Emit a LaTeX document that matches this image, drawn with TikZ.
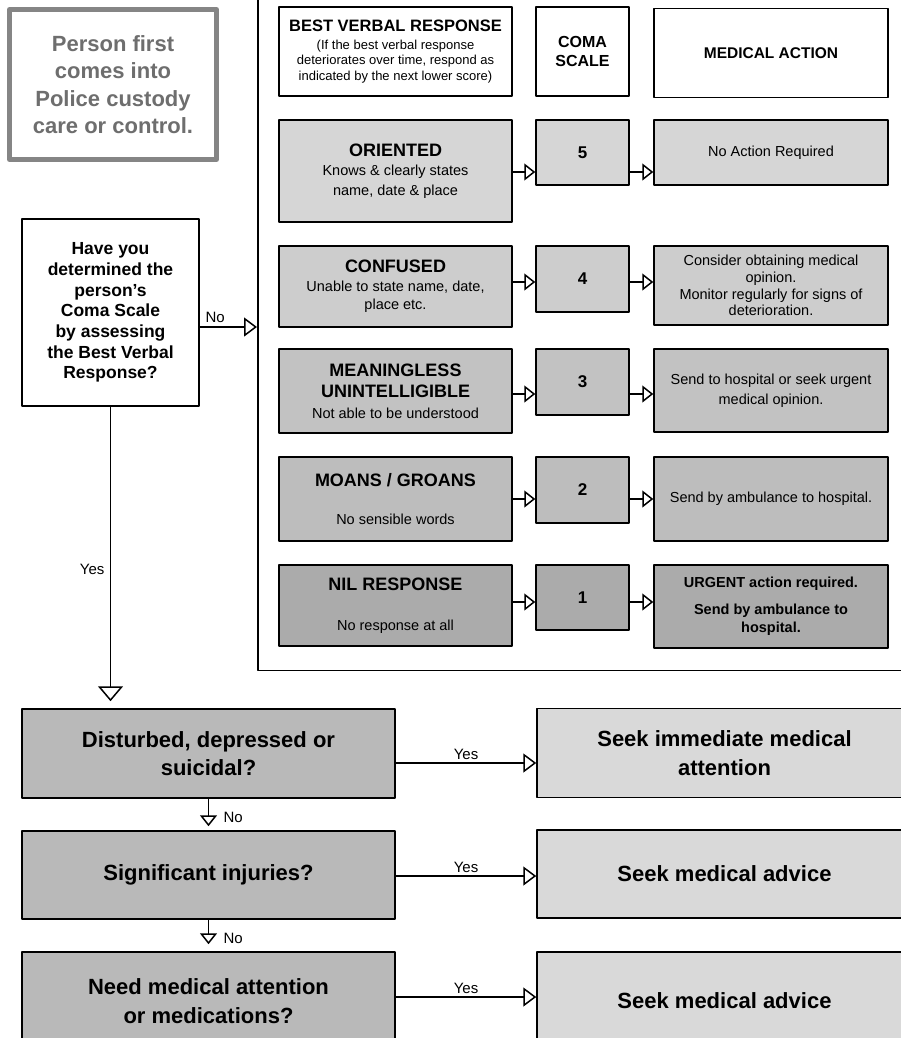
\documentclass[tikz,border=0pt]{standalone}
\usepackage{fontspec}
\setmainfont{Liberation Sans}
\usetikzlibrary{arrows.meta}
\definecolor{rowa}{HTML}{D6D6D6}
\definecolor{rowb}{HTML}{CDCDCD}
\definecolor{rowc}{HTML}{C2C2C2}
\definecolor{rowd}{HTML}{BDBDBD}
\definecolor{rowe}{HTML}{ABABAB}
\definecolor{qgray}{HTML}{B9B9B9}
\definecolor{seekgray}{HTML}{D9D9D9}
\definecolor{boxgray}{HTML}{858585}
\definecolor{textgray}{HTML}{6E6E6E}
\newcommand{\rowtitle}[1]{{\bfseries\fontsize{18}{19.5}\selectfont #1}}
\begin{document}
\begin{tikzpicture}[x=1pt,y=-1pt,line join=round]
\tikzset{box/.style={draw,line width=1.5pt,inner sep=0pt,align=center},
  sub/.style={font=\fontsize{14.5}{19.5}\selectfont},
  num/.style={font=\bfseries\fontsize{17}{19}\selectfont},
  big/.style={font=\bfseries\fontsize{22}{28.5}\selectfont},
  lbl/.style={font=\fontsize{15}{17}\selectfont},
  tipsmall/.style={line width=1.5pt,-{Triangle[fill=white,length=11pt,width=17pt]}},
  tipmid/.style={line width=1.5pt,-{Triangle[fill=white,length=13pt,width=19pt]}},
  tipbig/.style={line width=1.5pt,-{Triangle[fill=white,length=15pt,width=25pt]}}}
\useasboundingbox (0,0) rectangle (901,1038);
\clip (0,0) rectangle (901,1038);
% frame round the coma scale
\node[draw,line width=1.5pt,fill=white,inner sep=0pt,minimum width=700,minimum height=720,anchor=south west] (frame) at (257,671) {};
% start and question
\node[box,draw=boxgray,line width=5pt,fill=white,text=textgray,font=\bfseries\fontsize{22}{27.3}\selectfont,minimum width=207,minimum height=150] (start) at (113,84.5) {Person first\\comes into\\Police custody\\care or control.};
\node[box,fill=white,font=\bfseries\fontsize{17.5}{20.7}\selectfont,minimum width=177,minimum height=187] (ask) at (110.5,312.5) {Have you\\determined the\\person’s\\Coma Scale\\by assessing\\the Best Verbal\\Response?};
% header
\node[box,fill=white,font=\fontsize{13}{15.5}\selectfont,minimum width=233,minimum height=89] (hverb) at (395.5,51.5) {{\bfseries\fontsize{16.5}{15.5}\selectfont BEST VERBAL RESPONSE}\\[2.5pt](If the best verbal response\\deteriorates over time, respond as\\indicated by the next lower score)};
\node[box,fill=white,font=\bfseries\fontsize{16}{19}\selectfont,minimum width=93,minimum height=89] (hcoma) at (582.5,51.5) {COMA\\SCALE};
\node[box,fill=white,font=\bfseries\fontsize{15.5}{19}\selectfont,minimum width=234,minimum height=89] (hact) at (771,53) {MEDICAL ACTION};
% scale rows
\node[box,sub,fill=rowa,minimum width=233,minimum height=102] (l5) at (395.5,171) {\rowtitle{ORIENTED}\\Knows \& clearly states\\name, date \& place};
\node[box,num,fill=rowa,minimum width=93,minimum height=65] (c5) at (582.5,152.5) {5};
\node[box,sub,fill=rowa,minimum width=234,minimum height=65] (a5) at (771,152.5) {No Action Required};
\node[box,sub,fill=rowb,font=\fontsize{14.5}{18.5}\selectfont,minimum width=233,minimum height=81] (l4) at (395.5,286.5) {\rowtitle{CONFUSED}\\Unable to state name, date,\\place etc.};
\node[box,num,fill=rowb,minimum width=93,minimum height=66] (c4) at (582.5,279) {4};
\node[box,fill=rowb,font=\fontsize{14.5}{16.7}\selectfont,minimum width=234,minimum height=79] (a4) at (771,285.5) {Consider obtaining medical\\opinion.\\Monitor regularly for signs of\\deterioration.};
\node[box,fill=rowc,font=\fontsize{14.5}{21}\selectfont,minimum width=233,minimum height=84] (l3) at (395.5,391) {\rowtitle{MEANINGLESS}\\\rowtitle{UNINTELLIGIBLE}\\Not able to be understood};
\node[box,num,fill=rowc,minimum width=93,minimum height=66] (c3) at (582.5,382) {3};
\node[box,fill=rowc,font=\fontsize{14.5}{20}\selectfont,minimum width=234,minimum height=83] (a3) at (771,390.5) {Send to hospital or seek urgent\\medical opinion.};
\node[box,sub,fill=rowd,minimum width=233,minimum height=84] (l2) at (395.5,499) {\rowtitle{MOANS / GROANS}\\[19pt]No sensible words};
\node[box,num,fill=rowd,minimum width=93,minimum height=66] (c2) at (582.5,490) {2};
\node[box,sub,fill=rowd,minimum width=234,minimum height=84] (a2) at (771,499) {Send by ambulance to hospital.};
\node[box,sub,fill=rowe,minimum width=233,minimum height=81] (l1) at (395.5,605.5) {\rowtitle{NIL RESPONSE}\\[20pt]No response at all};
\node[box,num,fill=rowe,minimum width=93,minimum height=65] (c1) at (582.5,597.5) {1};
\node[box,fill=rowe,font=\bfseries\fontsize{14.5}{18}\selectfont,minimum width=234,minimum height=83] (a1) at (771,606.5) {URGENT action required.\\[9pt]Send by ambulance to\\hospital.};
\foreach \r/\y in {5/172,4/282,3/394,2/499,1/602}
{\draw[tipsmall] (l\r.east |- 0,\y) -- (c\r.west |- 0,\y);
 \draw[tipsmall] (c\r.east |- 0,\y) -- (a\r.west |- 0,\y);}
% bottom questions
\node[box,big,fill=qgray,minimum width=373,minimum height=89] (dis) at (208.5,753.5) {Disturbed, depressed or\\suicidal?};
\node[box,big,fill=qgray,minimum width=373,minimum height=88] (inj) at (208.5,875) {Significant injuries?};
\node[box,big,fill=qgray,minimum width=373,minimum height=98] (med) at (208.5,1001) {Need medical attention\\or medications?};
\node[box,big,fill=seekgray,minimum width=375,minimum height=89] (seek1) at (724.5,753) {Seek immediate medical\\attention};
\node[box,big,fill=seekgray,minimum width=375,minimum height=88] (seek2) at (724.5,874) {Seek medical advice};
\node[box,big,fill=seekgray,minimum width=375,minimum height=98] (seek3) at (724.5,1001) {Seek medical advice};
% connectors
\draw[tipmid] (ask.east |- 0,327) -- (frame.west |- 0,327) node[lbl,pos=.27,above] {No};
\draw[tipbig,shorten >=7pt] (ask.south) -- (ask.south |- dis.north) node[lbl,pos=.54,left=2pt] {Yes};
\draw[tipsmall,shorten >=4pt] (dis.south) -- (inj.north) node[lbl,pos=.6,right=11pt] {No};
\draw[tipsmall,shorten >=7pt] (inj.south) -- (med.north) node[lbl,pos=.6,right=11pt] {No};
\foreach \a/\b/\y in {dis/seek1/763,inj/seek2/876,med/seek3/997}
\draw[tipmid] (\a.east |- 0,\y) -- (\b.west |- 0,\y) node[lbl,midway,above=-1pt] {Yes};
\end{tikzpicture}
\end{document}
